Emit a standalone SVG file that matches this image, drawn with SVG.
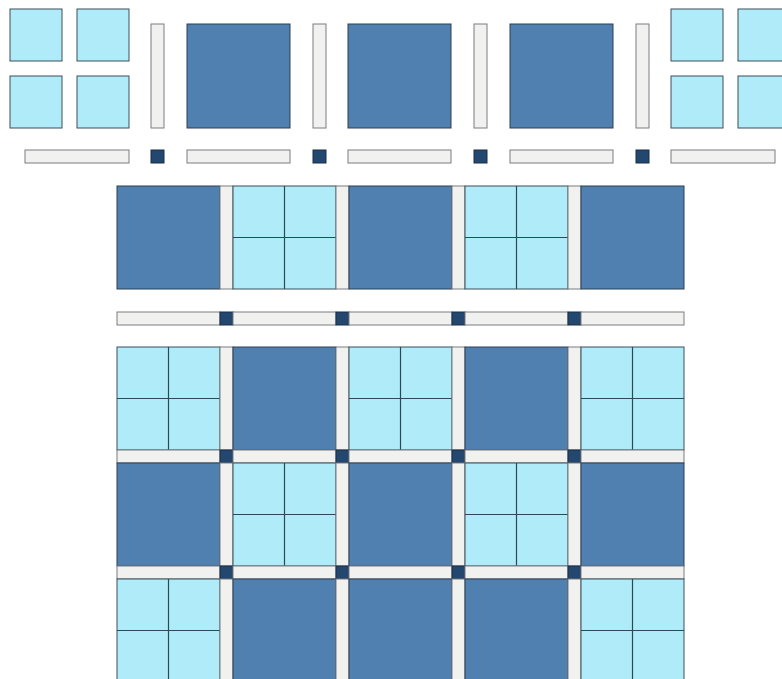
<svg xmlns="http://www.w3.org/2000/svg" xmlns:xlink="http://www.w3.org/1999/xlink" width="782" height="679" viewBox="0 0 782 679">
<style>
.lt{fill:#afebf9;stroke:#3d4f58;stroke-width:1}
.dk{fill:#4f80b0;stroke:#2c3f55;stroke-width:1}
.st{fill:#f1f1ef;stroke:#7a7d80;stroke-width:1}
.cs{fill:#23476f;stroke:#1a2f48;stroke-width:1}
.ln{stroke:#2b4a55;stroke-width:1.2;fill:none}
</style>
<defs>
<g id="fp"><rect class="lt" x="0" y="0" width="103" height="103"/><line class="ln" x1="51.5" y1="0" x2="51.5" y2="103"/><line class="ln" x1="0" y1="51.5" x2="103" y2="51.5"/></g>
<g id="db"><rect class="dk" x="0" y="0" width="103" height="103"/></g>
<rect id="vs" class="st" x="0" y="0" width="13" height="103"/>
<rect id="hs" class="st" x="0" y="0" width="103" height="13"/>
<rect id="cn" class="cs" x="0" y="0" width="13" height="13"/>
</defs>
<rect width="782" height="679" fill="#ffffff"/>
<g id="pieces-top">
<rect class="lt" x="10" y="9" width="52" height="52"/>
<rect class="lt" x="77" y="9" width="52" height="52"/>
<rect class="lt" x="10" y="76" width="52" height="52"/>
<rect class="lt" x="77" y="76" width="52" height="52"/>
<rect class="st" x="151" y="24" width="13" height="104"/>
<rect class="dk" x="187" y="24" width="103" height="104"/>
<rect class="st" x="313" y="24" width="13" height="104"/>
<rect class="dk" x="348" y="24" width="103" height="104"/>
<rect class="st" x="474" y="24" width="13" height="104"/>
<rect class="dk" x="510" y="24" width="103" height="104"/>
<rect class="st" x="636" y="24" width="13" height="104"/>
<rect class="lt" x="671" y="9" width="52" height="52"/>
<rect class="lt" x="738" y="9" width="52" height="52"/>
<rect class="lt" x="671" y="76" width="52" height="52"/>
<rect class="lt" x="738" y="76" width="52" height="52"/>
</g>
<g id="pieces-sash">
<rect class="st" x="25" y="150" width="104" height="13"/>
<rect class="cs" x="151" y="150" width="13" height="13"/>
<rect class="st" x="187" y="150" width="103" height="13"/>
<rect class="cs" x="313" y="150" width="13" height="13"/>
<rect class="st" x="348" y="150" width="103" height="13"/>
<rect class="cs" x="474" y="150" width="13" height="13"/>
<rect class="st" x="510" y="150" width="103" height="13"/>
<rect class="cs" x="636" y="150" width="13" height="13"/>
<rect class="st" x="671" y="150" width="104" height="13"/>
</g>
<g id="row-block">
<use xlink:href="#db" x="117" y="186"/>
<use xlink:href="#vs" x="220" y="186"/>
<use xlink:href="#fp" x="233" y="186"/>
<use xlink:href="#vs" x="336" y="186"/>
<use xlink:href="#db" x="349" y="186"/>
<use xlink:href="#vs" x="452" y="186"/>
<use xlink:href="#fp" x="465" y="186"/>
<use xlink:href="#vs" x="568" y="186"/>
<use xlink:href="#db" x="581" y="186"/>
</g>
<g id="row-sash">
<use xlink:href="#hs" x="117" y="312"/>
<use xlink:href="#cn" x="220" y="312"/>
<use xlink:href="#hs" x="233" y="312"/>
<use xlink:href="#cn" x="336" y="312"/>
<use xlink:href="#hs" x="349" y="312"/>
<use xlink:href="#cn" x="452" y="312"/>
<use xlink:href="#hs" x="465" y="312"/>
<use xlink:href="#cn" x="568" y="312"/>
<use xlink:href="#hs" x="581" y="312"/>
</g>
<g id="quilt">
<use xlink:href="#fp" x="117" y="347"/>
<use xlink:href="#vs" x="220" y="347"/>
<use xlink:href="#db" x="233" y="347"/>
<use xlink:href="#vs" x="336" y="347"/>
<use xlink:href="#fp" x="349" y="347"/>
<use xlink:href="#vs" x="452" y="347"/>
<use xlink:href="#db" x="465" y="347"/>
<use xlink:href="#vs" x="568" y="347"/>
<use xlink:href="#fp" x="581" y="347"/>

<use xlink:href="#hs" x="117" y="450"/>
<use xlink:href="#cn" x="220" y="450"/>
<use xlink:href="#hs" x="233" y="450"/>
<use xlink:href="#cn" x="336" y="450"/>
<use xlink:href="#hs" x="349" y="450"/>
<use xlink:href="#cn" x="452" y="450"/>
<use xlink:href="#hs" x="465" y="450"/>
<use xlink:href="#cn" x="568" y="450"/>
<use xlink:href="#hs" x="581" y="450"/>

<use xlink:href="#db" x="117" y="463"/>
<use xlink:href="#vs" x="220" y="463"/>
<use xlink:href="#fp" x="233" y="463"/>
<use xlink:href="#vs" x="336" y="463"/>
<use xlink:href="#db" x="349" y="463"/>
<use xlink:href="#vs" x="452" y="463"/>
<use xlink:href="#fp" x="465" y="463"/>
<use xlink:href="#vs" x="568" y="463"/>
<use xlink:href="#db" x="581" y="463"/>

<use xlink:href="#hs" x="117" y="566"/>
<use xlink:href="#cn" x="220" y="566"/>
<use xlink:href="#hs" x="233" y="566"/>
<use xlink:href="#cn" x="336" y="566"/>
<use xlink:href="#hs" x="349" y="566"/>
<use xlink:href="#cn" x="452" y="566"/>
<use xlink:href="#hs" x="465" y="566"/>
<use xlink:href="#cn" x="568" y="566"/>
<use xlink:href="#hs" x="581" y="566"/>

<use xlink:href="#fp" x="117" y="579"/>
<use xlink:href="#vs" x="220" y="579"/>
<use xlink:href="#db" x="233" y="579"/>
<use xlink:href="#vs" x="336" y="579"/>
<use xlink:href="#db" x="349" y="579"/>
<use xlink:href="#vs" x="452" y="579"/>
<use xlink:href="#db" x="465" y="579"/>
<use xlink:href="#vs" x="568" y="579"/>
<use xlink:href="#fp" x="581" y="579"/>
</g>
</svg>
